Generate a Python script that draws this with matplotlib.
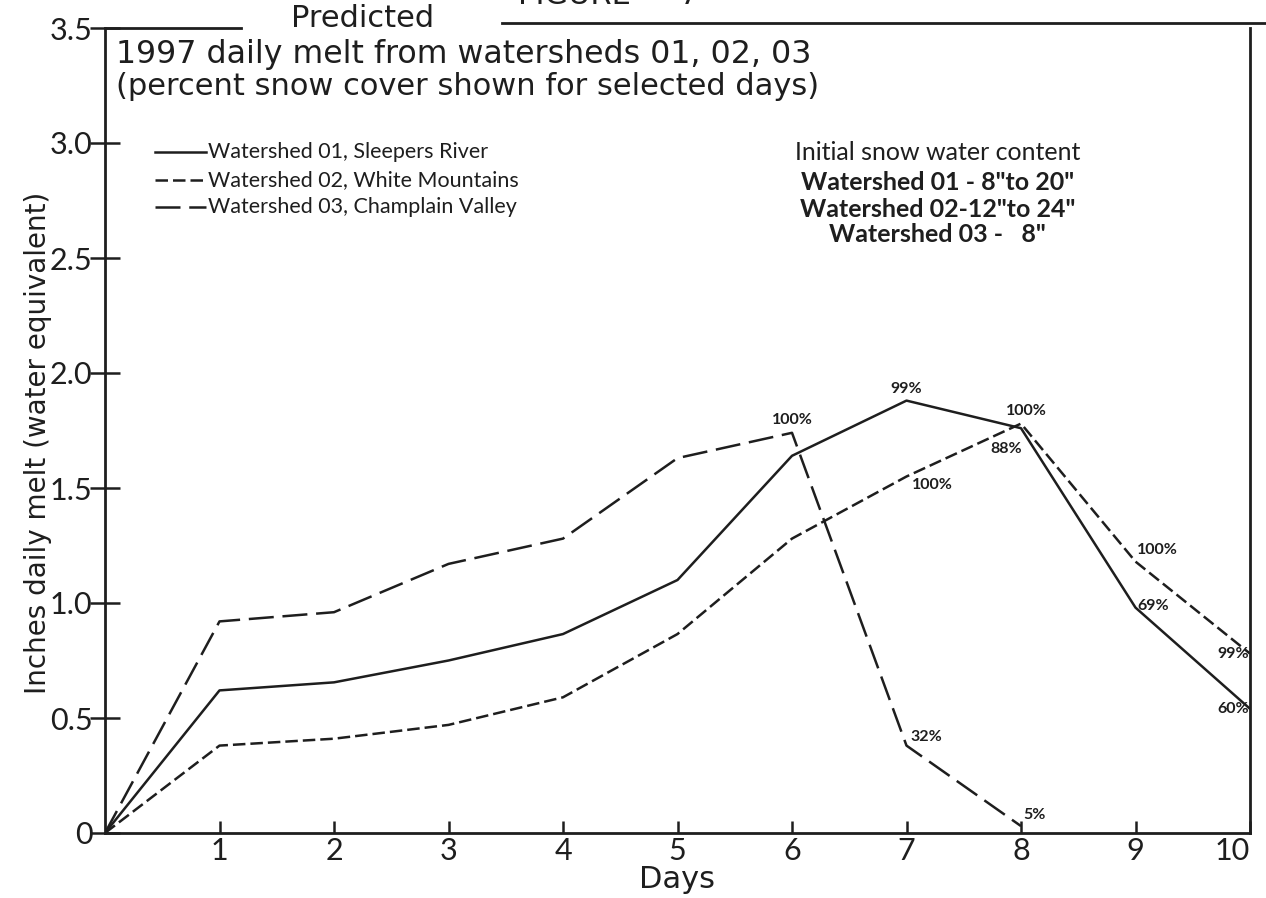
import matplotlib.pyplot as plt

# data
days = [0, 1, 2, 3, 4, 5, 6, 7, 8, 9, 10]
ws01 = [0, 0.62, 0.655, 0.75, 0.865, 1.10, 1.64, 1.88, 1.76, 0.98, 0.54]
ws02 = [0, 0.38, 0.41, 0.47, 0.59, 0.865, 1.28, 1.55, 1.78, 1.18, 0.78]
days03 = [0, 1, 2, 3, 4, 5, 6, 7, 8]
ws03 = [0, 0.92, 0.96, 1.17, 1.28, 1.63, 1.74, 0.38, 0.03]

# percent snow cover labels: (day, value, text, dx, dy, ha, va)
cover_labels = [
    (6, 1.74, "100%", 0, 4, "center", "bottom"),
    (7, 1.88, "99%", 0, 3, "center", "bottom"),
    (8, 1.78, "100%", 4, 4, "center", "bottom"),
    (7.85, 1.72, "88%", 2, -3, "center", "top"),
    (7.2, 1.56, "100%", 2, -3, "center", "top"),
    (7, 0.38, "32%", 3, 1, "left", "bottom"),
    (8, 0.03, "5%", 2, 3, "left", "bottom"),
    (9, 1.18, "100%", 1, 3, "left", "bottom"),
    (9, 0.98, "69%", 1, 1, "left", "center"),
    (10, 0.78, "99%", -1, 0, "right", "center"),
    (10, 0.54, "60%", -1, 0, "right", "center"),
]

ink = "#1e1e1e"
plt.rcParams['font.family'] = ['DejaVu Sans']

fig = plt.figure(figsize=(12.66, 8.98), dpi=100)
ax = fig.add_axes([105 / 1266, 65 / 898, 1145 / 1266, 805 / 898])

ax.plot(days, ws01, color=ink, lw=1.8)
ax.plot(days, ws02, color=ink, lw=1.8, dashes=(5, 2))
ax.plot(days03, ws03, color=ink, lw=1.8, dashes=(10, 3.5))

for x, y, s, dx, dy, ha, va in cover_labels:
    ax.annotate(s, (x, y), xytext=(dx, dy), textcoords="offset points",
                ha=ha, va=va, fontsize=11.5, color=ink, fontweight="bold",
                family="Lato")

ax.set_xlim(0, 10)
ax.set_ylim(0, 3.5)
ax.set_xticks(range(1, 11))
ax.set_yticks([0, 0.5, 1.0, 1.5, 2.0, 2.5, 3.0, 3.5])
ax.set_yticklabels(["0", "0.5", "1.0", "1.5", "2.0", "2.5", "3.0", "3.5"])
ax.tick_params(axis="x", direction="in", length=9, width=1.8, labelsize=22,
               pad=3, colors=ink)
ax.tick_params(axis="y", direction="inout", length=22, width=1.8,
               labelsize=22, pad=-2, colors=ink)
for lab in ax.get_xticklabels() + ax.get_yticklabels():
    lab.set_family("Lato")
ax.get_xticklabels()[-1].set_ha("right")
ax.spines["top"].set_visible(False)
for sp in ["left", "right", "bottom"]:
    ax.spines[sp].set_linewidth(2)
    ax.spines[sp].set_color(ink)

# broken top border with "Predicted" in the gap
ax.plot([0, 1.19], [3.5, 3.5], color=ink, lw=2, clip_on=False)
ax.plot([3.47, 10.2], [3.52, 3.52], color=ink, lw=2, clip_on=False)
ax.text(2.25, 3.48, "Predicted", ha="center", va="bottom", fontsize=22,
        color=ink)
fig.text(518 / 1266, 888 / 898, "FIGURE     7", ha="left", va="bottom",
         fontsize=22, color=ink)

ax.text(0.1, 3.45, "1997 daily melt from watersheds 01, 02, 03",
        fontsize=22.8, va="top", color=ink)
ax.text(0.1, 3.31, "(percent snow cover shown for selected days)",
        fontsize=22, va="top", color=ink)

# legend drawn by hand
legend_rows = [
    ("Watershed 01, Sleepers River", None),
    ("Watershed 02, White Mountains", (5, 2)),
    ("Watershed 03, Champlain Valley", (10, 3.5)),
]
for i, (label, dash) in enumerate(legend_rows):
    yy = 2.96 - i * 0.12
    kw = {} if dash is None else {"dashes": dash}
    ax.plot([0.44, 0.88], [yy, yy], color=ink, lw=1.8, **kw)
    ax.text(0.9, yy, label, fontsize=15.5, va="center", color=ink,
            family="Lato")

snow_rows = ["Initial snow water content", "Watershed 01 - 8\"to 20\"",
             "Watershed 02-12\"to 24\"", "Watershed 03 -   8\""]
snow_y = [2.96, 2.83, 2.71, 2.60]
for s, yy in zip(snow_rows, snow_y):
    ax.text(7.27, yy, s, fontsize=18, va="center", ha="center",
            color=ink, fontweight="bold" if s[0] == "W" else "normal",
            family="Lato")

ax.set_xlabel("Days", fontsize=22, color=ink, labelpad=0)
ax.set_ylabel("Inches daily melt (water equivalent)", fontsize=20, color=ink)
ax.yaxis.set_label_coords(-0.046, 0.485)

fig.savefig("out.png", dpi=100)
